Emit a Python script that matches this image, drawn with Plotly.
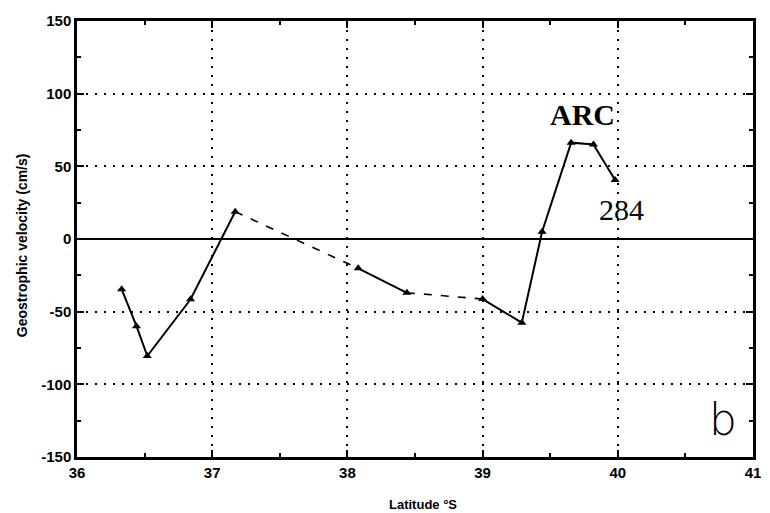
import plotly.graph_objects as go

# Station latitudes (deg S) and geostrophic velocity (cm/s)
lat = [36.33, 36.44, 36.52, 36.84, 37.17, 38.08, 38.44, 39.00, 39.29, 39.44, 39.655, 39.82, 39.98]
vel = [-34.5, -60.0, -80.5, -41.5, 18.8, -20.2, -37.0, -41.3, -57.6, 5.0, 66.3, 65.0, 40.6]

# Index ranges of the connected pieces; dashed pieces bridge data gaps
segments = [(0, 4, "solid"), (4, 5, "dashed"), (5, 6, "solid"), (6, 7, "dashed"), (7, 12, "solid")]

x_ticks = [36, 37, 38, 39, 40, 41]
x_labels = ["36", "37", "38", "39", "40", "41"]
y_ticks = [-150, -100, -50, 0, 50, 100, 150]
y_labels = ["-150", "-100", "-50", "0", "50", "100", "150"]

fig = go.Figure()

for i0, i1, style in segments:
    fig.add_trace(go.Scatter(
        x=lat[i0:i1 + 1], y=vel[i0:i1 + 1], mode="lines",
        line=dict(color="black", width=2 if style == "solid" else 1.6,
                  dash="solid" if style == "solid" else "8px,9px"),
        showlegend=False, hoverinfo="skip",
    ))

fig.add_trace(go.Scatter(
    x=lat, y=vel, mode="markers",
    marker=dict(symbol="triangle-up", size=8, color="black"),
    showlegend=False,
))

tick_font = dict(family="Liberation Sans", size=15, color="black", weight="bold")

fig.update_xaxes(
    range=[36, 41], tickvals=x_ticks, ticktext=x_labels,
    showline=True, linecolor="black", linewidth=2.5, mirror="ticks",
    ticks="inside", ticklen=7, tickwidth=1.5, tickcolor="black",
    minor=dict(ticks="inside", dtick=0.5, ticklen=4, tickwidth=1.5, tickcolor="black", showgrid=False),
    showgrid=True, gridcolor="black", gridwidth=1.6, griddash="2px,7px",
    zeroline=False, tickfont=tick_font,
)
fig.update_yaxes(
    range=[-150, 150], tickvals=y_ticks, ticktext=y_labels,
    showline=True, linecolor="black", linewidth=2.5, mirror="ticks",
    ticks="inside", ticklen=7, tickwidth=1.5, tickcolor="black",
    minor=dict(ticks="inside", dtick=25, ticklen=4, tickwidth=1.5, tickcolor="black", showgrid=False),
    showgrid=True, gridcolor="black", gridwidth=1.6, griddash="2px,7px",
    zeroline=True, zerolinecolor="black", zerolinewidth=2,
    tickfont=tick_font,
)

PLOT_W, PLOT_H = 684, 436  # plot-area size in pixels

fig.update_layout(
    width=770, height=513,
    margin=dict(l=77, r=9, t=21, b=56),
    paper_bgcolor="white", plot_bgcolor="white",
    annotations=[
        dict(x=39.74, y=86, xref="x", yref="y", text="<b>ARC</b>", showarrow=False,
             font=dict(family="Liberation Serif", size=30, color="black")),
        dict(x=40.03, y=20, xref="x", yref="y", text="284", showarrow=False,
             font=dict(family="Liberation Serif", size=30, color="black")),
        dict(x=40.78, y=-124.5, xref="x", yref="y", text="b", showarrow=False,
             font=dict(family="DejaVu Sans", size=44, color="black", weight=300)),
        dict(x=(427 - 77) / PLOT_W, y=-(504 - 457) / PLOT_H, xref="paper", yref="paper",
             text="Latitude °S", showarrow=False, xanchor="center", yanchor="middle",
             font=dict(family="Liberation Sans", size=13, color="black", weight="bold")),
        dict(x=-(77 - 21.5) / PLOT_W, y=(457 - 245) / PLOT_H, xref="paper", yref="paper",
             text="Geostrophic velocity (cm/s)", textangle=-90, showarrow=False,
             xanchor="center", yanchor="middle",
             font=dict(family="Liberation Sans", size=14, color="black", weight="bold")),
    ],
)

fig.write_html("out.html")
